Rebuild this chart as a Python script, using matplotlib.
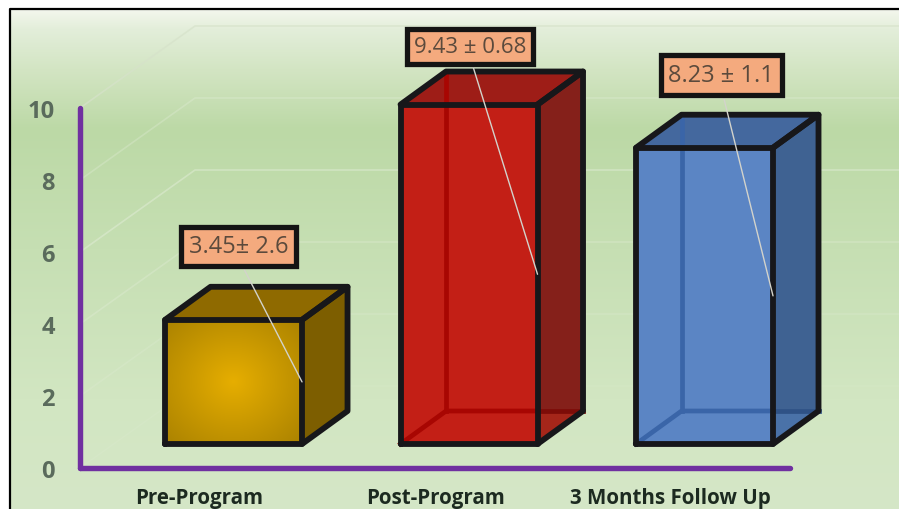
import numpy as np
import matplotlib
matplotlib.use("Agg")
import matplotlib.pyplot as plt
from matplotlib.colors import to_rgb

categories = ["Pre-Program", "Post-Program", "3 Months Follow Up"]
values = [3.45, 9.43, 8.23]
labels = ["3.45\u00b1 2.6", "9.43 \u00b1 0.68", "8.23 \u00b1 1.1"]
yticks = [0, 2, 4, 6, 8, 10]

front_cols = ["#d9a400", "#c31f16", "#5b85c4"]
top_cols = ["#8f6a00", "#9e1d17", "#44689e"]
side_cols = ["#7d5e00", "#85201a", "#3f6292"]
low_cols = [None, "#a5261a", "#4a72a8"]
back_cols = [None, "#a80602", "#3a65a8"]
back_side_cols = [None, "#7d0c08", "#2f5286"]

plt.rcParams['font.family'] = ['Open Sans', 'DejaVu Sans']

W, H = 899, 510
fig = plt.figure(figsize=(W / 100, H / 100), dpi=100)

# background gradient and frame
bg = fig.add_axes([0, 0, 1, 1], zorder=0)
bg.set_xlim(0, W)
bg.set_ylim(H, 0)
bg.axis("off")
stops_y = [12, 30, 70, 130, 250, 400, 510]
stops_c = ["#f2f6ec", "#e3eeda", "#d3e5c3", "#bcd9a6", "#c6dfb3", "#d2e6c2", "#d5e7c7"]
rows = np.array([[to_rgb(c)[k] for k in range(3)] for c in stops_c])
yy = np.arange(10, H)
grad = np.stack([np.interp(yy, stops_y, rows[:, k]) for k in range(3)], axis=1)[:, None, :]
bg.imshow(grad, extent=[10, W, H, 10], aspect="auto", interpolation="bilinear")
bg.set_xlim(0, W)
bg.set_ylim(H, 0)
bg.plot([10, 10, W], [H, 10, 10], color="black", lw=1.6)

# 1 unit = 36px high, bars 235.5px apart
ax = fig.add_axes([80 / W, (H - 469) / H, 710 / W, 360 / H], zorder=1)
ax.patch.set_alpha(0)
ax.set_xlim(-0.652, 2.363)
ax.set_ylim(0, 10)

bw = 137 / 235.5
dx = 45.5 / 235.5
dy = 33 / 36
floor = 24 / 36
lw_edge = 4.2
edge = "#17171a"

# 3d grid on the back wall
grid_alpha = [0.12, 0.2, 0.3, 0.45, 0.3, 0.7]
grid_cols = ["#e6efdd", "#e6efdd", "#e6efdd", "#e6efdd", "#e6efdd", "#d6e2ca"]
wall_x = -0.652 + 115 / 235.5
wall_y = 82 / 36
for v, a, c in zip(yticks, grid_alpha, grid_cols):
    ax.plot([-0.652, wall_x, 2.826], [v, v + wall_y, v + wall_y], color=c, lw=1.2,
            alpha=a, clip_on=False, zorder=1)

for i, val in enumerate(values):
    l = i - bw / 2
    r = i + bw / 2
    b = floor
    t = floor + val
    # front face
    if i == 0:
        # radial glow on the yellow one
        nx, ny = 120, 120
        gx, gy = np.meshgrid(np.linspace(-1, 1, nx), np.linspace(-1, 1, ny))
        d = np.clip(np.sqrt(gx ** 2 + gy ** 2) / 1.35, 0, 1)[..., None]
        img = (1 - d) * np.array(to_rgb("#e6ae00")) + d * np.array(to_rgb("#ad8400"))
        ax.imshow(img, extent=[l, r, b, t], aspect="auto", zorder=3, clip_on=False)
        ax.set_xlim(-0.652, 2.363)
        ax.set_ylim(0, 10)
    else:
        ax.fill([l, r, r, l], [b, b, t, t], color=front_cols[i], lw=0, zorder=3, clip_on=False)
    # top and side
    ax.fill([l, r, r + dx, l + dx], [t, t, t + dy, t + dy], color=top_cols[i], lw=0, zorder=3, clip_on=False)
    ax.fill([r, r + dx, r + dx, r], [b, b + dy, t + dy, t], color=side_cols[i], lw=0, zorder=3, clip_on=False)
    if back_cols[i]:
        ax.fill([r, r + dx, r], [b, b + dy, b + dy], color=low_cols[i], lw=0, zorder=3, clip_on=False)
        ax.plot([l, l + dx, r], [b, b + dy, b + dy], color=back_cols[i], lw=3.4, zorder=4, clip_on=False)
        ax.plot([r, r + dx], [b + dy, b + dy], color=back_side_cols[i], lw=3.4, zorder=4, clip_on=False)
        ax.plot([l + dx, l + dx], [b + dy, t + dy], color=back_cols[i], lw=3.4, zorder=4, clip_on=False)
    # black outline
    for xs, ys in [([l, r, r, l, l], [b, b, t, t, b]),
                   ([l, l + dx, r + dx, r], [t, t + dy, t + dy, t]),
                   ([r, r + dx, r + dx, r], [b, b + dy, t + dy, t])]:
        ax.plot(xs, ys, color=edge, lw=lw_edge, solid_joinstyle="round", solid_capstyle="round",
                zorder=5, clip_on=False)

# callouts, leader ends at half the bar on its front right edge
box_x = [238.5, 470, 721]
box_y = [247.5, 47.5, 76]
box_fs = [17, 16, 17]
for i, val in enumerate(values):
    tx = (box_x[i] - 233.5) / 235.5
    ty = (469 - box_y[i]) / 36
    ax.annotate(labels[i], xy=(i + bw / 2, floor + val / 2), xytext=(tx, ty),
                ha="center", va="center", fontsize=box_fs[i], color="#5b4a3c", zorder=8,
                annotation_clip=False,
                bbox=dict(boxstyle="square,pad=0.32", fc="#f4aa7e", ec="#141414", lw=3.8),
                arrowprops=dict(arrowstyle="-", color="#d3d3cb", lw=1, shrinkA=0, shrinkB=0,
                                relpos=(0.5, 0)))

for s in ["top", "right"]:
    ax.spines[s].set_visible(False)
for s in ["left", "bottom"]:
    ax.spines[s].set_color("#7030a0")
    ax.spines[s].set_linewidth(3.9)
    ax.spines[s].set_capstyle("round")

ax.set_yticks(yticks)
ax.set_xticks([i - 34 / 235.5 for i in range(3)])
ax.set_xticklabels(categories, fontsize=14.8, fontweight="bold", color="#1c2a20")
ax.tick_params(axis="y", length=0, pad=18, labelsize=17, labelcolor="#5a6b5c")
ax.tick_params(axis="x", length=0, pad=13.5)
for t in ax.get_yticklabels():
    t.set_fontweight("bold")

fig.savefig("out.png", dpi=100)
